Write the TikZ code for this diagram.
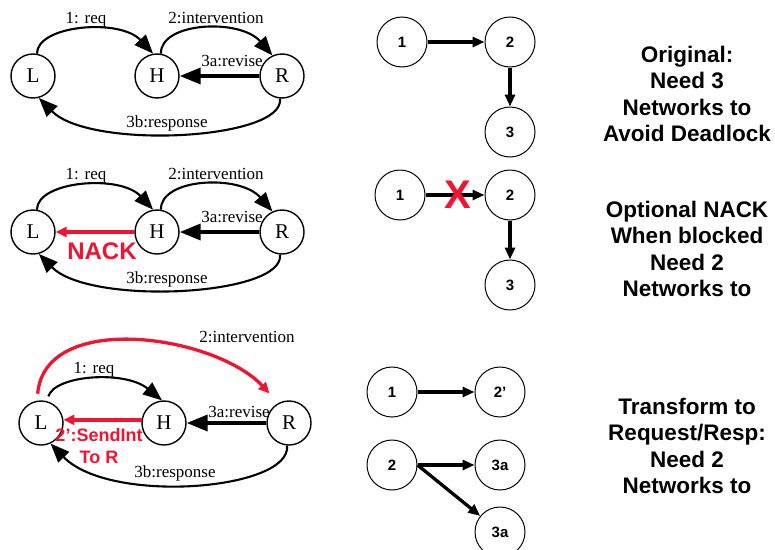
\documentclass[tikz,border=0pt]{standalone}
\usepackage{fontspec}
\setmainfont{Liberation Serif}
\newfontfamily\hv{Liberation Sans}
\usetikzlibrary{arrows.meta}
\definecolor{alert}{RGB}{238,20,50}

\begin{document}
\begin{tikzpicture}[x=1pt,y=-1pt,
  st/.style={circle,draw,line width=1.4pt,minimum size=44pt,inner sep=0pt,
    font=\fontsize{21}{21}\selectfont},
  num/.style={circle,draw,line width=1pt,minimum size=50pt,inner sep=0pt,
    font=\hv\bfseries\fontsize{15}{15}\selectfont},
  arc/.style={line width=2.1pt,-{Triangle[length=19pt,width=15pt]}},
  thickarc/.style={line width=3.6pt,-{Triangle[length=21pt,width=16pt]}},
  redarc/.style={draw=alert,line width=3.3pt,-{Triangle[length=11pt,width=10pt]}},
  link/.style={line width=3.3pt,-{Triangle[length=12pt,width=10pt]}},
  lbl/.style={font=\fontsize{17}{17}\selectfont,inner sep=0pt},
  note/.style={align=center,font=\hv\bfseries\fontsize{22.5}{26.5}\selectfont},
  redtxt/.style={text=alert,inner sep=0pt,align=center}
]
\useasboundingbox (0,0) rectangle (775,549);
\fill[white] (0,0) rectangle (775,549);

% ---- row 1: original protocol ----
\node[st] (L1) at (33,76) {L};
\node[st] (H1) at (157,76) {H};
\node[st] (R1) at (282,76) {R};
\draw[arc] (L1.80) .. controls (37,25) and (120,18) .. (H1.100);
\draw[arc] (H1.80) .. controls (160,22) and (240,18) .. (R1.115);
\draw[thickarc] (R1.west) -- (H1.east);
\draw[arc] (R1.-95) .. controls (285,140) and (90,150) .. (L1.-75);
\node[lbl] at (86,20) {1: req};
\node[lbl] at (216,18) {2:intervention};
\node[lbl] at (232,61) {3a:revise};
\node[lbl] at (167,123) {3b:response};

\node[num] (a1) at (402,42) {1};
\node[num] (a2) at (510,42) {2};
\node[num] (a3) at (510,132) {3};
\draw[link] (a1) -- (a2);
\draw[link] (a2) -- (a3);

\node[note] at (687,94) {Original:\\Need 3\\Networks to\\Avoid Deadlock};

% ---- row 2: NACK when blocked ----
\node[st] (L2) at (33,232) {L};
\node[st] (H2) at (157,232) {H};
\node[st] (R2) at (282,232) {R};
\draw[arc] (L2.80) .. controls (37,181) and (120,174) .. (H2.100);
\draw[arc] (H2.80) .. controls (160,178) and (240,174) .. (R2.115);
\draw[thickarc] (R2.west) -- (H2.east);
\draw[arc] (R2.-95) .. controls (285,296) and (90,306) .. (L2.-75);
\draw[redarc] (H2.west) -- (L2.east);
\node[lbl] at (86,176) {1: req};
\node[lbl] at (216,174) {2:intervention};
\node[lbl] at (232,217) {3a:revise};
\node[lbl] at (167,279) {3b:response};
\node[redtxt,font=\hv\bfseries\fontsize{24}{24}\selectfont] at (102,251) {NACK};

\node[num] (b1) at (400,195) {1};
\node[num] (b2) at (510,195) {2};
\node[num] (b3) at (510,285) {3};
\draw[link] (b1) -- (b2);
\draw[link] (b2) -- (b3);
\node[redtxt,font=\hv\bfseries\fontsize{40}{40}\selectfont] (x) at (458,195) {X};

\node[note] at (687,249) {Optional NACK\\When blocked\\Need 2\\Networks to};

% ---- row 3: request/response transform ----
\node[st] (L3) at (41,423) {L};
\node[st] (H3) at (164,423) {H};
\node[st] (R3) at (289,423) {R};
\draw[redarc,shorten <=7pt,shorten >=13pt] (L3.100) .. controls (45,310) and (215,335) .. (R3.118);
\draw[arc,shorten <=5pt] (L3.75) .. controls (55,375) and (125,370) .. (H3.95);
\draw[redarc] (H3.172) -- (L3.8);
\draw[thickarc] (R3.west) -- (H3.east);
\draw[arc] (R3.-95) .. controls (292,490) and (110,505) .. (L3.-65);
\node[lbl] at (247,337) {2:intervention};
\node[lbl] at (94,370) {1: req};
\node[lbl] at (239,412) {3a:revise};
\node[lbl] at (175,473) {3b:response};
\node[redtxt,font=\hv\bfseries\fontsize{18}{22}\selectfont] at (99,446) {2’:SendInt\\To R};

\node[num] (c1) at (392,392) {1};
\node[num] (c2p) at (500,392) {2’};
\node[num] (c2) at (392,465) {2};
\node[num] (c3a) at (500,465) {3a};
\node[num] (c3b) at (500,532) {3a};
\draw[link] (c1) -- (c2p);
\draw[link] (c2) -- (c3a);
\draw[link] (c2.east) -- (c3b);

\node[note] at (687,446) {Transform to\\Request/Resp:\\Need 2\\Networks to};
\end{tikzpicture}
\end{document}
